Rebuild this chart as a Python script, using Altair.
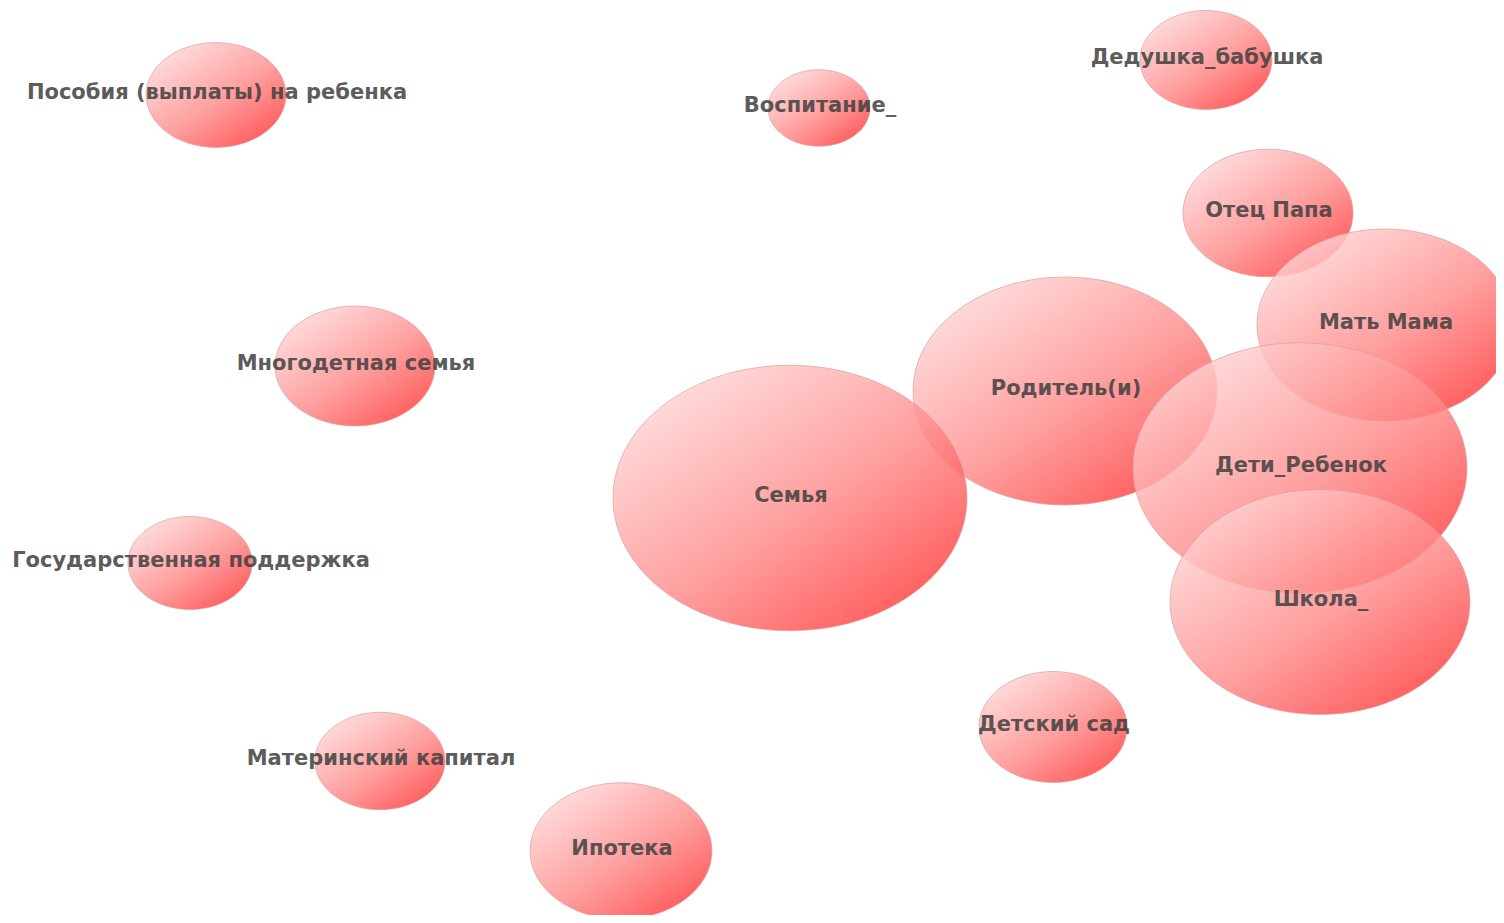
import altair as alt
import pandas as pd

labels = [
    "Пособия (выплаты) на ребенка", "Воспитание_", "Дедушка_бабушка", "Отец Папа",
    "Мать Мама", "Родитель(и)", "Дети_Ребенок", "Школа_", "Семья",
    "Многодетная семья", "Государственная поддержка", "Детский сад",
    "Материнский капитал", "Ипотека",
]
pos_x = [216, 819, 1206, 1268, 1385, 1065, 1300, 1320, 790, 355, 190, 1053, 380, 621]
pos_y = [95, 108, 60, 213, 325, 391, 468, 602, 498, 366, 563, 727, 761, 851]
values = [15.6, 8.3, 13.9, 23.1, 52.3, 73.7, 89.0, 71.8, 100.0, 20.4, 12.3, 17.5, 13.5, 26.4]

df = pd.DataFrame({"label": labels, "x": pos_x, "y": pos_y, "value": values})

ellipse = "M-1,0A1,0.75,0,1,1,1,0A1,0.75,0,1,1,-1,0Z"

grad = alt.Gradient(
    gradient="linear",
    stops=[
        alt.GradientStop(color="#ffdcdc", offset=0),
        alt.GradientStop(color="#ff8a8a", offset=0.55),
        alt.GradientStop(color="#ff3030", offset=1),
    ],
    x1=0.1, y1=0.05, x2=0.9, y2=0.95,
)

W, H = 1488, 907
xs = alt.Scale(domain=[8, 8 + W], nice=False, zero=False)
ys = alt.Scale(domain=[8, 8 + H], reverse=True, nice=False, zero=False)

bubbles = alt.Chart(df).mark_point(
    shape=ellipse, filled=True, fill=grad, fillOpacity=0.82,
    stroke="#d8a0a0", strokeWidth=1, strokeOpacity=0.7, clip=True,
).encode(
    x=alt.X("x:Q", scale=xs, axis=None),
    y=alt.Y("y:Q", scale=ys, axis=None),
    size=alt.Size("value:Q", scale=alt.Scale(domain=[0, 100], range=[0, 125316]), legend=None),
)

text = alt.Chart(df).mark_text(
    font="DejaVu Sans", fontWeight="bold", fontSize=21, color="#404040",
    opacity=0.85, baseline="middle", align="center", dy=-2, dx=1,
).encode(
    x=alt.X("x:Q", scale=xs, axis=None),
    y=alt.Y("y:Q", scale=ys, axis=None),
    text="label:N",
)

chart = (bubbles + text).properties(width=W, height=H, padding=0).configure_view(stroke=None)

chart.save("out.html", embed_options={"renderer": "svg", "actions": False})
